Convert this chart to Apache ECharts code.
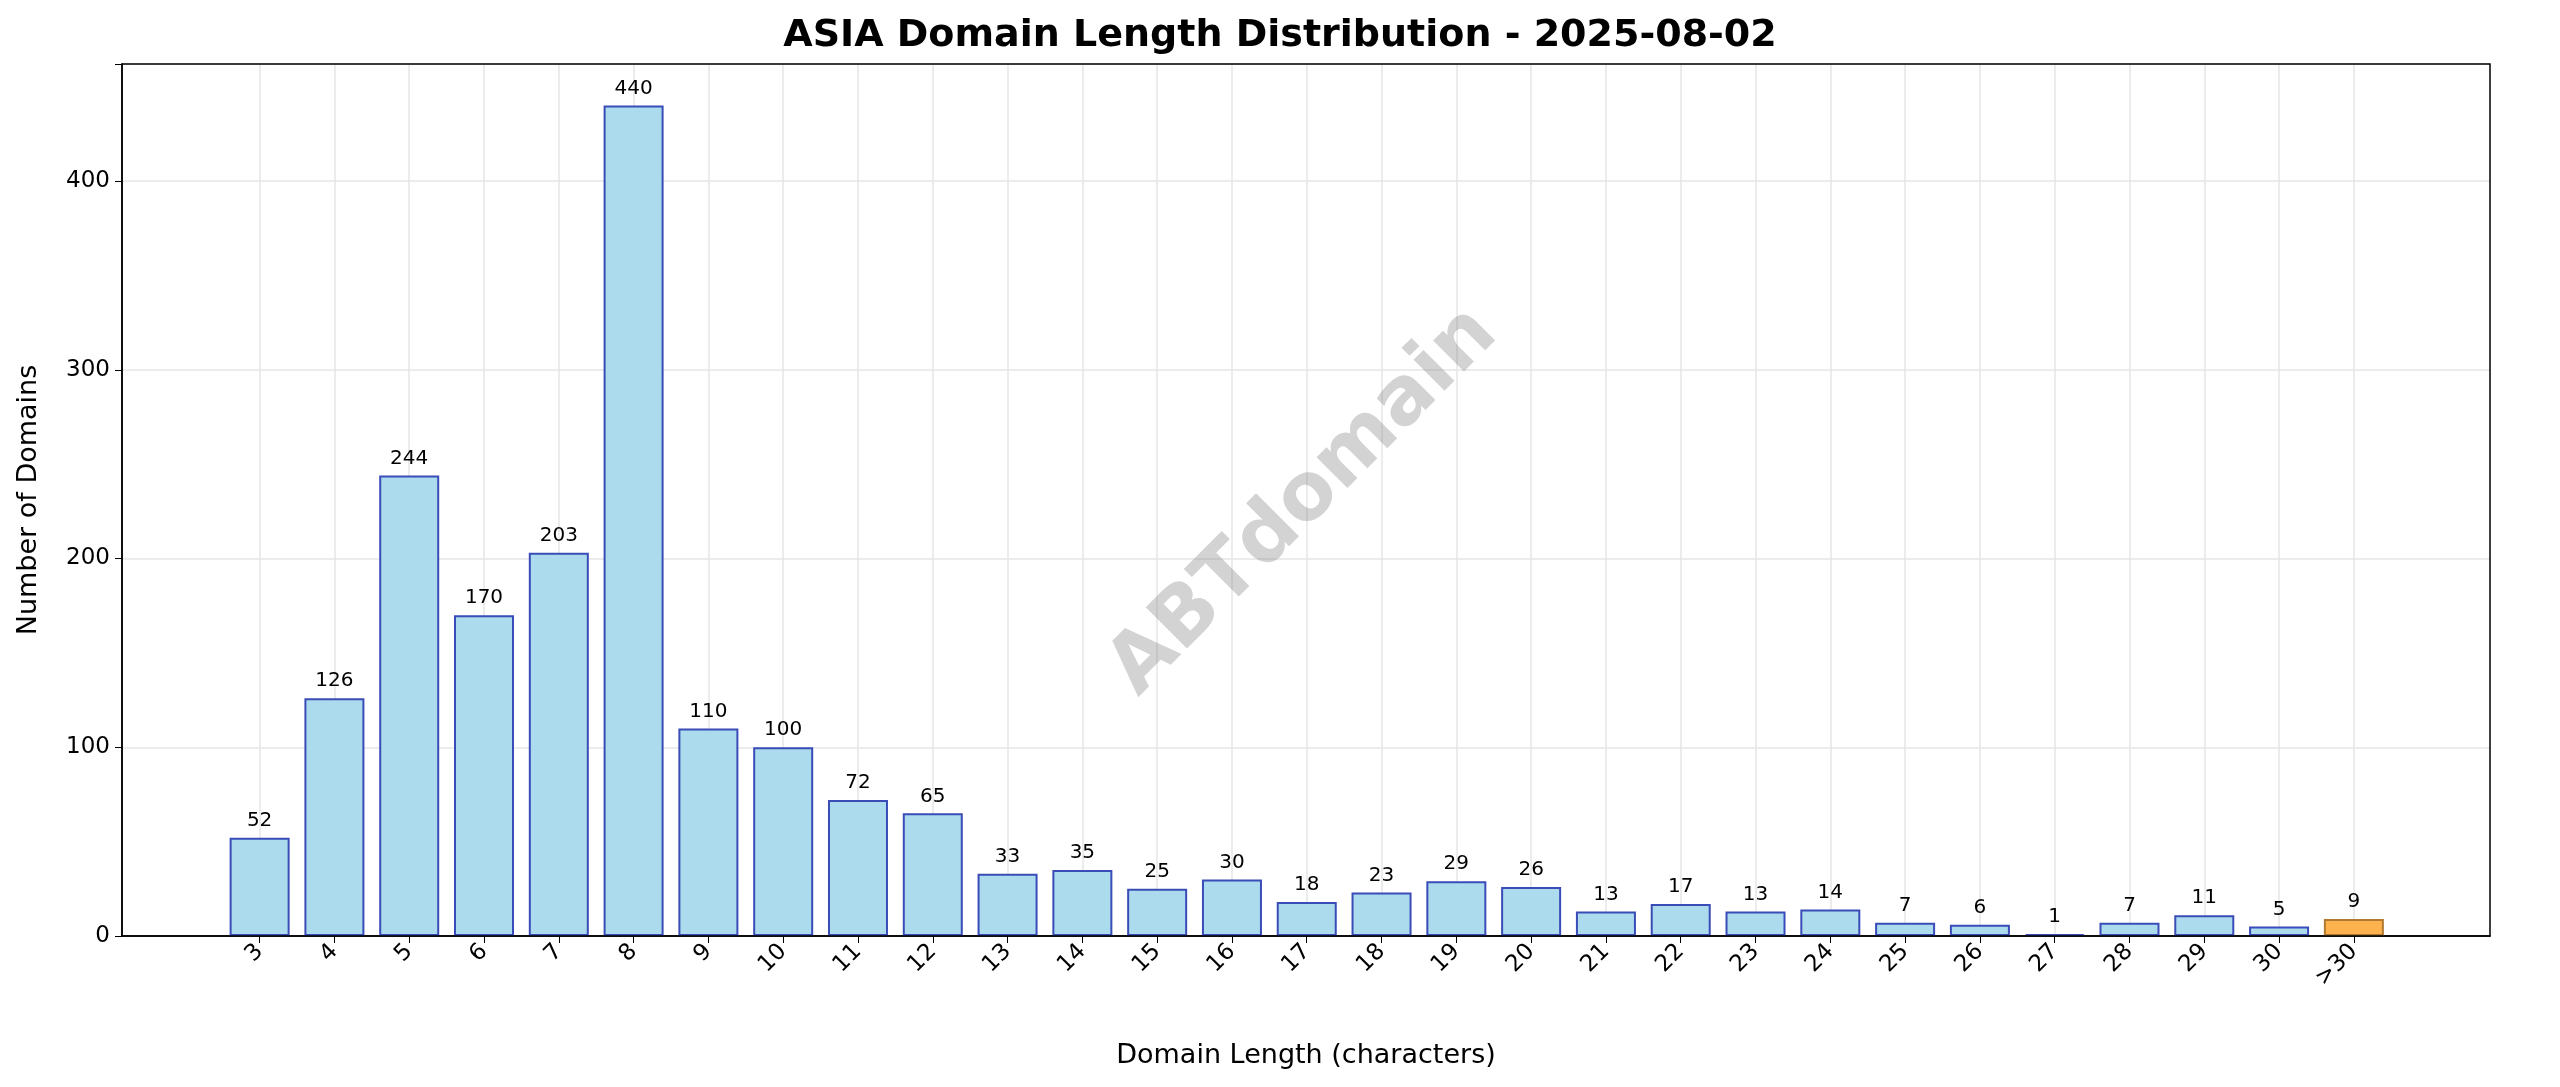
<!DOCTYPE html>
<html><head><meta charset="utf-8">
<script src="https://cdn.jsdelivr.net/npm/echarts@6/dist/echarts.min.js"></script>
<style>html,body{margin:0;padding:0;background:#fff}#c{width:2560px;height:1087px}</style>
</head><body><div id="c"></div>
<script>
const categories = ['3','4','5','6','7','8','9','10','11','12','13','14','15','16','17','18','19','20','21','22','23','24','25','26','27','28','29','30','>30'];
const counts = [52,126,244,170,203,440,110,100,72,65,33,35,25,30,18,23,29,26,13,17,13,14,7,6,1,7,11,5,9];
const yTicks = [0,100,200,300,400];

const idx = categories.map((c,i)=>i);
const chart = echarts.init(document.getElementById('c'));
const L=122,R=2490,T=64,B=936;
chart.setOption({
  animation:false,
  backgroundColor:'#fff',
  title:{text:'ASIA Domain Length Distribution - 2025-08-02',left:'center',top:12,
    textStyle:{fontFamily:'DejaVu Sans',fontSize:38,fontWeight:'bold',color:'#000'}},
  grid:{left:L,right:2560-R,top:T,bottom:1087-B},
  xAxis:{type:'value',min:-1.84,max:categories.length-1+1.82,
    name:'Domain Length (characters)',nameLocation:'middle',nameGap:106,
    nameTextStyle:{fontFamily:'DejaVu Sans',fontSize:27,color:'#000'},
    axisLine:{show:true,onZero:false,lineStyle:{color:'#000',width:1.5}},
    axisTick:{show:true,inside:false,customValues:idx,length:7,lineStyle:{color:'#000'}},
    axisLabel:{customValues:idx,rotate:45,fontFamily:'DejaVu Sans',fontSize:23,color:'#000',margin:12,
      formatter:v=>categories[Math.round(v)]},
    splitLine:{show:false}},
  yAxis:{type:'value',min:0,max:462,interval:100,
    name:'Number of Domains',nameLocation:'middle',nameGap:80,
    nameTextStyle:{fontFamily:'DejaVu Sans',fontSize:27,color:'#000'},
    axisLine:{show:true,onZero:false,lineStyle:{color:'#000',width:1.5}},
    axisTick:{show:true,inside:false,length:7,lineStyle:{color:'#000'}},
    axisLabel:{fontFamily:'DejaVu Sans',fontSize:23,color:'#000',margin:12,
      formatter:v=>yTicks.includes(v)?String(v):''},
    splitLine:{show:true,lineStyle:{color:'#e6e6e6',width:1.5}}},
  series:[{
    type:'bar',barWidth:60,
    data:counts.map((v,i)=>({value:[i,v],itemStyle:{color:i===counts.length-1?'#fdb24e':'#abdbed',
      borderColor:i===counts.length-1?'#b07a30':'#3a4cb8',borderWidth:2}})),
    label:{show:true,position:'top',distance:7,fontFamily:'DejaVu Sans',fontSize:20,color:'#000',
      formatter:p=>p.value[1]},
    markLine:{silent:true,symbol:'none',label:{show:false},
      lineStyle:{color:'#e6e6e6',width:1.5,type:'solid'},z:-1,
      data:idx.map(i=>({xAxis:i}))},
    z:3
  }],
  graphic:[
    {type:'rect',shape:{x:L,y:T,width:R-L,height:B-T},style:{fill:'none',stroke:'#000',lineWidth:1.5},z:10,silent:true},
    {type:'text',x:1304,y:502,rotation:Math.PI/4,
      style:{text:'ABTdomain',fontFamily:'DejaVu Sans',fontSize:80,fontWeight:'bold',fill:'rgba(128,128,128,0.35)',
        align:'center',verticalAlign:'middle'},z:20,silent:true}
  ]
});
</script></body></html>
